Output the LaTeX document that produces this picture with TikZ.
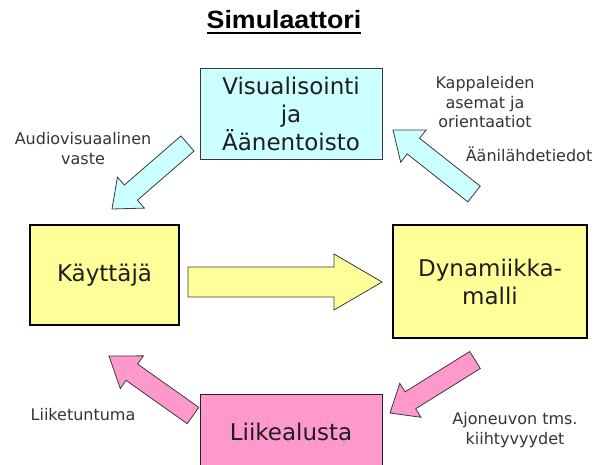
\documentclass[tikz,border=0pt]{standalone}
\usepackage{fontspec}
\setmainfont{DejaVu Sans}
\newfontfamily\titlefont{Liberation Sans}
\usetikzlibrary{calc}
\definecolor{cyanfill}{HTML}{CCFFFF}
\definecolor{yelfill}{HTML}{FFFF99}
\definecolor{pinkfill}{HTML}{FF99CC}
\definecolor{edgegray}{HTML}{3A3A3A}
\definecolor{txtcol}{HTML}{1E1E1E}
% #1 prefix (coords #1t tail, #1h tip), #2 half shaft, #3 half head, #4 head length, #5 style
\newcommand\blkarrow[5]{%
  \coordinate (#1b) at ($(#1h)!#4!(#1t)$);
  \draw[#5] ($(#1t)!#2!90:(#1h)$) -- ($(#1b)!#2!90:(#1h)$) -- ($(#1b)!#3!90:(#1h)$) -- (#1h)
    -- ($(#1b)!#3!-90:(#1h)$) -- ($(#1b)!#2!-90:(#1h)$) -- ($(#1t)!#2!-90:(#1h)$) -- cycle;
}
\begin{document}
\begin{tikzpicture}[x=1pt,y=-1pt,
  box/.style={align=center, inner sep=0pt, text=txtcol,
    font=\fontsize{23}{28}\selectfont},
  lbl/.style={align=center, inner sep=0pt, text=txtcol!90,
    font=\fontsize{16}{19.5}\selectfont},
  cyanarrow/.style={fill=cyanfill, draw=edgegray, line width=0.8pt, line join=miter},
  yelarrow/.style={fill=yelfill, draw=edgegray, line width=0.8pt, line join=miter},
  pinkarrow/.style={fill=pinkfill, draw=edgegray, line width=0.8pt, line join=miter}]
\useasboundingbox (0,0) rectangle (604,464);
\clip (0,0) rectangle (604,464);
\fill[white] (0,0) rectangle (604,464);

% title
\node[anchor=base, inner sep=0pt, font=\titlefont\bfseries\fontsize{25}{28}\selectfont, text=black] (title) at (284,28) {\scalebox{1.07}[1]{Simulaattori}};
\draw[line width=2.2pt] ($(title.base west)+(0,5)$) -- ($(title.base east)+(0,5)$);

% boxes
\node[box, draw=edgegray, line width=1pt, fill=cyanfill, minimum width=182pt, minimum height=91pt] (vis) at (291,113.5)
  {Visualisointi\\ja\\Äänentoisto};
\node[box, draw=black, line width=2pt, fill=yelfill, minimum width=149pt, minimum height=100pt] (kay) at (104.5,275)
  {Käyttäjä};
\node[box, draw=black, line width=2pt, fill=yelfill, minimum width=194pt, minimum height=113pt] (dyn) at (490,281.5)
  {Dynamiikka-\\malli};
\node[box, draw=edgegray!80!pinkfill!40!black, line width=1pt, fill=pinkfill, minimum width=182pt, minimum height=76pt] (lii) at (291,432)
  {Liikealusta};

% block arrows
\coordinate (a1t) at (187.5,143.5); \coordinate (a1h) at (112,209);
\blkarrow{a1}{10pt}{20.5pt}{25pt}{cyanarrow}
\coordinate (a2t) at (474,194); \coordinate (a2h) at (393,130);
\blkarrow{a2}{10pt}{20.5pt}{26pt}{cyanarrow}
\coordinate (a3t) at (475,360); \coordinate (a3h) at (390,413);
\blkarrow{a3}{10pt}{20pt}{24pt}{pinkarrow}
\coordinate (a4t) at (193,415.5); \coordinate (a4h) at (109,356);
\blkarrow{a4}{10pt}{20pt}{28pt}{pinkarrow}
\coordinate (a5t) at (188,282); \coordinate (a5h) at (382,282);
\blkarrow{a5}{15pt}{28pt}{48pt}{yelarrow}

% labels
\node[lbl] (l1) at (83,148.5) {Audiovisuaalinen\\vaste};
\node[lbl] (l2) at (485,102.5) {Kappaleiden\\asemat ja\\orientaatiot};
\node[lbl] (l3) at (529,154) {Äänilähdetiedot};
\node[lbl] (l4) at (83,415) {Liiketuntuma};
\node[lbl] (l5) at (515,430) {Ajoneuvon tms.\\kiihtyvyydet};
\end{tikzpicture}
\end{document}
